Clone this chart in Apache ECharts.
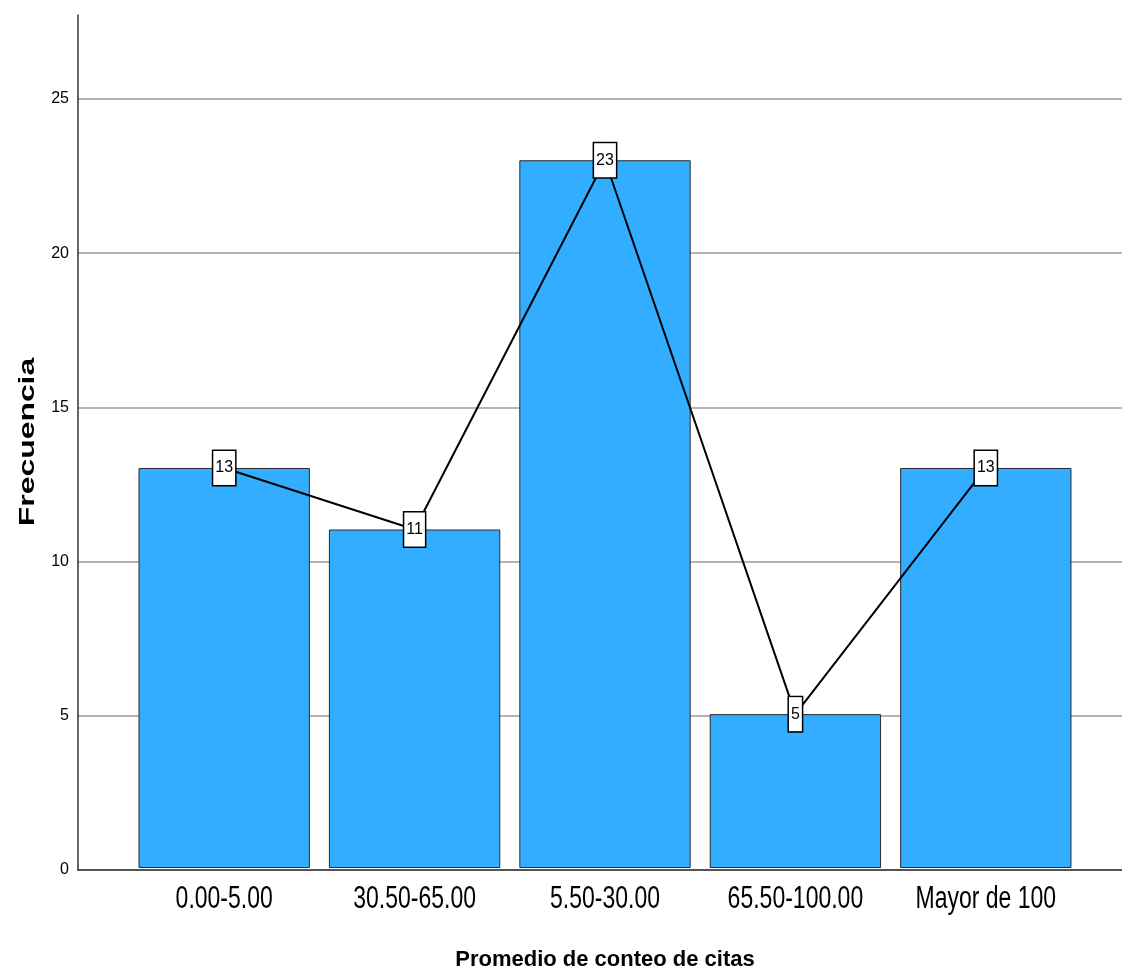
<!DOCTYPE html>
<html>
<head>
<meta charset="utf-8">
<script src="https://cdn.jsdelivr.net/npm/echarts@6/dist/echarts.min.js"></script>
<style>html,body{margin:0;padding:0;background:#fff}#c{width:1122px;height:976px}</style>
</head>
<body>
<div id="c"></div>
<script>
const categories = ['0.00-5.00', '30.50-65.00', '5.50-30.00', '65.50-100.00', 'Mayor de 100'];
const frecuencia = [13, 11, 23, 5, 13];
const yTicks = [0, 5, 10, 15, 20, 25];
const yMax = 27.72;

const FONT = '"Liberation Sans", Arial, sans-serif';
const chart = echarts.init(document.getElementById('c'));
chart.setOption({
  animation: false,
  backgroundColor: '#fff',
  grid: [
    { left: 78, right: 0, top: 15, bottom: 106 },
    { left: 129, right: 41, top: 15, bottom: 106 }
  ],
  xAxis: [
    { gridIndex: 0, type: 'value', min: 0, max: 1,
      axisLine: { show: true, lineStyle: { color: '#333', width: 1.5 } },
      axisTick: { show: false }, axisLabel: { show: false }, splitLine: { show: false } },
    { gridIndex: 1, type: 'category', data: categories,
      axisLine: { show: false }, axisTick: { show: false }, axisLabel: { show: false },
      name: 'Promedio de conteo de citas', nameLocation: 'middle', nameGap: 81,
      nameTextStyle: { color: '#000', fontFamily: FONT, fontSize: 22, fontWeight: 'bold' } }
  ],
  yAxis: [
    { gridIndex: 0, type: 'value', min: 0, max: yMax, interval: 5,
      axisLine: { show: true, lineStyle: { color: '#333', width: 1.5 } },
      axisTick: { show: false },
      axisLabel: { color: '#000', fontFamily: FONT, fontSize: 16, margin: 9,
        formatter: v => (yTicks.indexOf(v) >= 0 ? String(v) : '') },
      splitLine: { show: true, showMaxLine: false, lineStyle: { color: '#b4b4b4', width: 2 } } },
    { gridIndex: 1, type: 'value', min: 0, max: yMax, interval: 5, show: false }
  ],
  series: [
    { type: 'bar', xAxisIndex: 1, yAxisIndex: 1, data: frecuencia, barCategoryGap: '10%',
      itemStyle: { color: '#32adff', borderColor: '#2a2a2a', borderWidth: 1 }, z: 2 },
    { type: 'line', xAxisIndex: 1, yAxisIndex: 1, data: frecuencia,
      symbol: 'rect', symbolSize: 1, itemStyle: { color: '#000' },
      lineStyle: { color: '#000', width: 2 }, z: 3,
      label: { show: true, position: 'inside', color: '#000', fontFamily: FONT, fontSize: 16,
        backgroundColor: '#fff', borderColor: '#000', borderWidth: 1.5,
        padding: [8, 2, 8, 2], lineHeight: 18 } },
    { type: 'custom', xAxisIndex: 1, yAxisIndex: 1, silent: true, z: 4,
      data: categories.map((c, i) => [i, 0]),
      renderItem: (params, api) => {
        const p = api.coord([api.value(0), 0]);
        return { type: 'text', x: p[0], y: p[1] + 31, scaleY: 1.35,
          style: { text: categories[params.dataIndex], fill: '#000',
            font: '23px "Liberation Sans", Arial, sans-serif',
            align: 'center', verticalAlign: 'middle',
            textAlign: 'center', textVerticalAlign: 'middle' } };
      } }
  ],
  graphic: [
    { type: 'text', x: 28, y: 442, rotation: Math.PI / 2, scaleX: 1.45,
      style: { text: 'Frecuencia', fill: '#000', font: 'bold 22px "Liberation Sans", Arial, sans-serif',
        textAlign: 'center', textVerticalAlign: 'middle' } }
  ]
});
</script>
</body>
</html>
